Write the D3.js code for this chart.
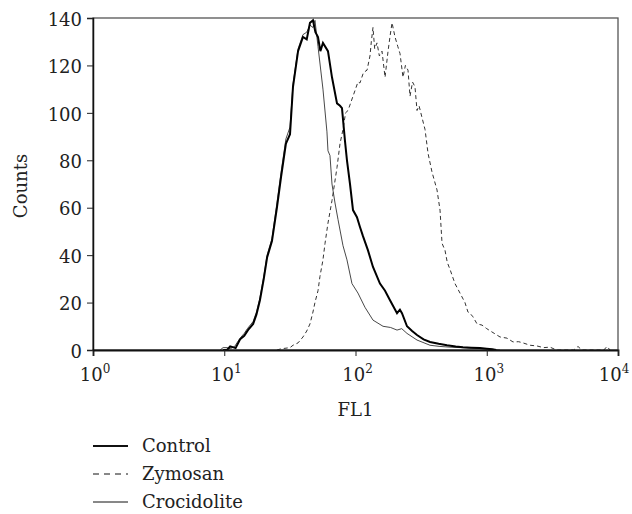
<!DOCTYPE html>
<html>
<head>
<meta charset="utf-8">
<script src="https://cdn.jsdelivr.net/npm/d3@7"></script>
<style>
    body { margin: 0; background: #fff; }
    text { font-family: "DejaVu Serif", "Liberation Serif", serif; fill: #222; }
</style>
</head>
<body>
<div class="chart"></div>
<script>
var width = 632;
var height = 514;
var margin = {top: 18, right: 14, bottom: 164, left: 93};

// FL1 channel value, counts
var control = [
    [9.8, 0], [10.5, 0], [11.1, 1.5], [11.6, 1.2], [12.2, 0.8], [13.2, 4.5], [14.2, 6],
    [15.2, 8.5], [16.6, 11], [17.6, 15], [18.7, 21], [20, 30], [21.2, 39], [23.1, 46],
    [25.2, 60], [27.1, 73], [29.5, 87], [31.7, 91], [33.4, 111], [36.5, 126], [39.8, 132],
    [42.5, 131], [45, 138], [47.4, 139], [49.5, 134], [51.8, 132], [54, 126], [56.5, 129.5],
    [61.7, 126], [66.2, 115], [72.3, 104], [76.2, 103], [78.9, 102], [83.2, 88], [86.1, 80],
    [90.8, 70], [95.7, 59], [102.6, 56], [108, 52], [114, 48], [124.5, 42], [135.9, 35],
    [153.6, 28], [167.9, 25], [183.2, 21], [207.2, 15.5], [218, 17], [226, 15.5],
    [246.8, 10], [270, 8], [294.2, 6.3], [330, 4.5], [369.8, 3.4], [430, 2.6], [497.7, 2],
    [580, 1.5], [659, 1.2], [760, 1], [889, 0.8], [1000, 0.5], [1100, 0.3], [1180, 0]
];

var zymosan = [
    [25.2, 0], [27.1, 0.5], [31.7, 1], [33.4, 2], [36.5, 3], [39.8, 5.5], [42.5, 8],
    [45, 11], [47.4, 16], [49.1, 20], [51.8, 25], [53.6, 31], [56.5, 38], [58.6, 45],
    [61.7, 53.5], [66.2, 63], [72.3, 77], [76.2, 87], [80.3, 93], [84, 100], [87.7, 101],
    [95.7, 107], [104.4, 113], [108.1, 112.6], [115, 117], [122.4, 118], [128.9, 124],
    [132, 130], [135.9, 136], [140, 127], [145.8, 129.5], [152, 124], [159.2, 126],
    [167.9, 115], [177, 126], [183, 132], [189.8, 138], [200, 132], [210, 128],
    [218.3, 125], [230.1, 115], [240, 120], [251.2, 118], [260.2, 107], [272, 113],
    [283.9, 111], [294.2, 101], [305, 103], [321.2, 98], [338.6, 93], [356.8, 83],
    [382.9, 75], [417.8, 67.5], [440.6, 59], [456.3, 45], [480.9, 42], [500, 37],
    [524.8, 34], [572.8, 28], [625.3, 24], [682.4, 20], [719.4, 16], [745.3, 15.5],
    [785.2, 14], [843.3, 11], [920.4, 10.5], [1000, 9], [1096, 7.6], [1180, 6.5],
    [1262, 5.5], [1426, 5], [1585, 3.4], [1750, 3.5], [1888, 3], [2138, 2], [2415, 1.7],
    [2700, 1], [3034, 1.2], [3400, 0], [4600, 0], [4955, 1.5], [5300, 0], [7800, 0],
    [8241, 1.5], [8700, 0]
];

var crocidolite = [
    [9.3, 0], [9.8, 1], [10.5, 1], [11.1, 0.5], [12, 1.5], [13.2, 5], [14.2, 7], [15, 9],
    [16.6, 12], [17.6, 16], [18.7, 22], [20, 31], [21.2, 40], [23.1, 47], [25.2, 62],
    [27.1, 75], [29.5, 89], [31.7, 94], [33.4, 112], [36.5, 127], [39.8, 133], [42.5, 134],
    [45, 137], [47.4, 136], [49.1, 139], [51.8, 128], [56.5, 110], [60.6, 92], [61.7, 84],
    [63.9, 82], [66.2, 70], [69.8, 62], [73.6, 55], [80.3, 44], [86.1, 38], [94, 28],
    [104.4, 24], [118.1, 18], [135.9, 12.6], [162.1, 10], [185, 9.5], [207.2, 8.4],
    [225, 9], [246.8, 7], [294.2, 4.2], [369.8, 2], [440, 1.5], [524.8, 1.2], [700, 0.9],
    [889, 0.6], [1050, 0.4], [1262, 0]
];

var xMajor = [1, 10, 100, 1000, 10000];
var xExp = ['0', '1', '2', '3', '4'];
var yMajor = [0, 20, 40, 60, 80, 100, 120, 140];

var legendNames = ['Control', 'Zymosan', 'Crocidolite'];

var fontSize = 18;

var svg = d3.select('.chart').append('svg')
    .attr('width', width)
    .attr('height', height);

var x = d3.scaleLog()
    .domain([1, 10000])
    .range([margin.left, width - margin.right]);

var y = d3.scaleLinear()
    .domain([0, 140])
    .range([height - margin.bottom, margin.top]);

// minor ticks, 2..9 of every decade
var xMinor = [];
for (var dec = 1; dec < 10000; dec *= 10) {
    for (var k = 2; k <= 9; k++) { xMinor.push(dec * k); }
}
var yMinor = d3.range(0, 141, 4).filter(function (v) { return v % 20 !== 0; });

// frame (top and right)
svg.append('rect')
    .attr('x', margin.left)
    .attr('y', margin.top)
    .attr('width', width - margin.left - margin.right)
    .attr('height', height - margin.top - margin.bottom)
    .attr('fill', 'none')
    .attr('stroke', '#555')
    .attr('stroke-width', 1.3);

var line = d3.line()
    .x(function (d) { return x(d[0]); })
    .y(function (d) { return y(d[1]); });

svg.append('path')
    .datum(zymosan)
    .attr('d', line)
    .attr('fill', 'none')
    .attr('stroke', '#333')
    .attr('stroke-width', 1)
    .attr('stroke-dasharray', '4,3');

svg.append('path')
    .datum(crocidolite)
    .attr('d', line)
    .attr('fill', 'none')
    .attr('stroke', '#333')
    .attr('stroke-width', 0.9);

svg.append('path')
    .datum(control)
    .attr('d', line)
    .attr('fill', 'none')
    .attr('stroke', '#000')
    .attr('stroke-width', 2);

// x axis
var xAxisG = svg.append('g')
    .attr('transform', 'translate(0,' + y(0) + ')');
xAxisG.call(d3.axisBottom(x).tickValues(xMinor).tickSize(3).tickFormat(''));
xAxisG.call(d3.axisBottom(x).tickValues(xMajor).tickSize(6).tickFormat(''));
xAxisG.selectAll('.domain').attr('stroke', '#111').attr('stroke-width', 1.8);
xAxisG.selectAll('.tick line').attr('stroke', '#222');

// 10^n labels, last one pulled in so it stays on the page
var xLab = svg.append('g').selectAll('text')
    .data(xMajor)
    .enter()
    .append('text')
        .attr('x', function (d) { return Math.min(x(d) + 2, width - 18); })
        .attr('y', 381)
        .attr('text-anchor', 'middle')
        .attr('font-size', fontSize);
xLab.append('tspan').text('10');
xLab.append('tspan')
    .attr('dy', -8)
    .attr('font-size', 12)
    .text(function (d, i) { return xExp[i]; });

// y axis
var yAxisG = svg.append('g')
    .attr('transform', 'translate(' + margin.left + ',0)');
yAxisG.call(d3.axisLeft(y).tickValues(yMinor).tickSize(3).tickFormat(''));
yAxisG.call(d3.axisLeft(y).tickValues(yMajor).tickSize(6).tickPadding(5).tickFormat(d3.format('d')));
yAxisG.selectAll('.domain').attr('stroke', '#111').attr('stroke-width', 1.5);
yAxisG.selectAll('.tick line').attr('stroke', '#222');
yAxisG.selectAll('.tick text')
    .attr('font-size', fontSize)
    .attr('dy', '0.4em')
    .attr('fill', '#222');

svg.append('text')
    .attr('transform', 'translate(27,186) rotate(-90)')
    .attr('text-anchor', 'middle')
    .attr('font-size', fontSize)
    .text('Counts');

svg.append('text')
    .attr('x', (margin.left + width - margin.right) / 2)
    .attr('y', 416)
    .attr('text-anchor', 'middle')
    .attr('font-size', fontSize)
    .text('FL1');

// legend
var legendY = [446, 474, 502];
var legendDash = [null, '6,5', null];
var legendWidth = [2, 1, 1];
var lg = svg.append('g').selectAll('g')
    .data(legendNames)
    .enter()
    .append('g');
lg.append('line')
    .attr('x1', 93)
    .attr('x2', 128)
    .attr('y1', function (d, i) { return legendY[i]; })
    .attr('y2', function (d, i) { return legendY[i]; })
    .attr('stroke', '#111')
    .attr('stroke-width', function (d, i) { return legendWidth[i]; })
    .attr('stroke-dasharray', function (d, i) { return legendDash[i]; });
lg.append('text')
    .attr('x', 142)
    .attr('y', function (d, i) { return legendY[i] + 6; })
    .attr('font-size', fontSize)
    .text(function (d) { return d; });
</script>
</body>
</html>
